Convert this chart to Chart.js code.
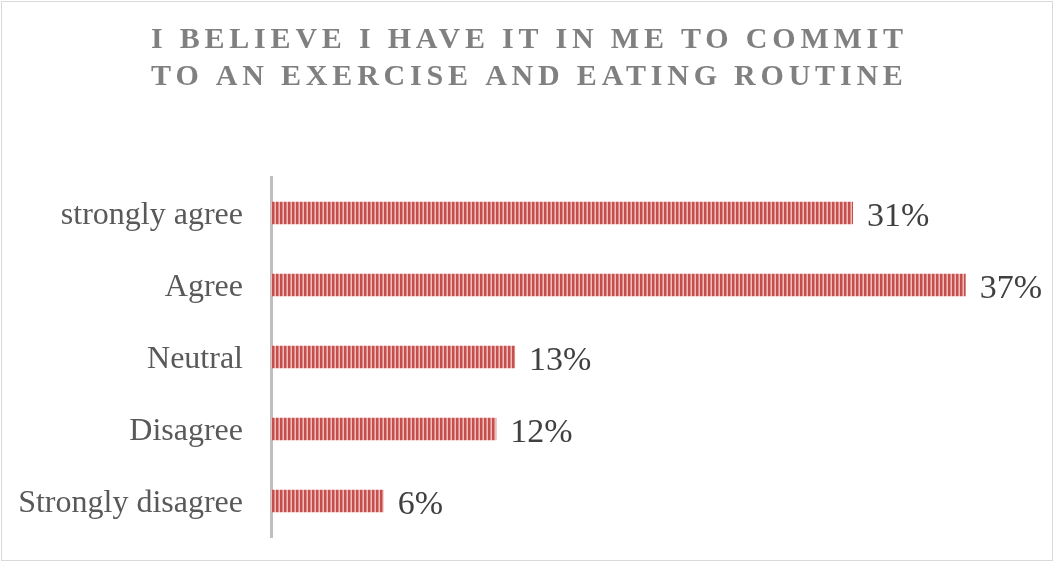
<!DOCTYPE html>
<html>
<head>
<meta charset="utf-8">
<script src="https://cdn.jsdelivr.net/npm/chart.js@4/dist/chart.umd.min.js"></script>
<style>
    html, body { margin: 0; padding: 0; background: #fff; }
    #wrap { width: 1054px; height: 562px; }
</style>
</head>
<body>
<div id="wrap"><canvas id="agreeChart" width="1054" height="562"></canvas></div>
<script>
// Chart data
const categories = ['strongly agree', 'Agree', 'Neutral', 'Disagree', 'Strongly disagree'];
const percentValues = [31, 37, 13, 12, 6];
const titleLines = ['I BELIEVE I HAVE IT IN ME TO COMMIT', 'TO AN EXERCISE AND EATING ROUTINE'];

const serif = "'Liberation Serif', 'Times New Roman', serif";

// Vertical stripe fill for the bars
function stripePattern(ctx) {
    const c = document.createElement('canvas');
    c.width = 4;
    c.height = 1;
    const p = c.getContext('2d');
    p.fillStyle = '#c44f4d';
    p.fillRect(0, 0, 2, 1);
    p.fillStyle = '#dc8988';
    p.fillRect(2, 0, 1, 1);
    p.fillStyle = '#eebcbb';
    p.fillRect(3, 0, 1, 1);
    return ctx.createPattern(c, 'repeat');
}

// Spaced title + frame
const titlePlugin = {
    id: 'spacedTitle',
    afterDraw(chart) {
        const ctx = chart.ctx;
        ctx.save();
        ctx.strokeStyle = '#d9d9d9';
        ctx.lineWidth = 1;
        ctx.strokeRect(1.5, 1.5, chart.width - 3, chart.height - 3);

        ctx.font = 'bold 30px ' + serif;
        ctx.fillStyle = '#808080';
        ctx.textBaseline = 'middle';
        ctx.textAlign = 'left';
        const spacing = 4.8;
        ctx.letterSpacing = spacing + 'px';
        const lineY = [40, 77];
        titleLines.forEach(function(line, i) {
            const w = ctx.measureText(line).width - spacing;
            ctx.fillText(line, chart.width / 2 - w / 2, lineY[i]);
        });
        ctx.restore();
    }
};

// Value labels at the end of each bar
const valueLabels = {
    id: 'valueLabels',
    afterDatasetsDraw(chart) {
        const ctx = chart.ctx;
        const meta = chart.getDatasetMeta(0);
        ctx.save();
        ctx.font = '34px ' + serif;
        ctx.fillStyle = '#404040';
        ctx.textAlign = 'left';
        ctx.textBaseline = 'alphabetic';
        meta.data.forEach(function(bar, i) {
            ctx.fillText(percentValues[i] + '%', bar.x + 14, bar.y + 13);
        });
        ctx.restore();
    }
};

document.addEventListener('DOMContentLoaded', function() {
    const canvas = document.getElementById('agreeChart');
    const ctx = canvas.getContext('2d');

    new Chart(ctx, {
        type: 'bar',
        data: {
            labels: categories,
            datasets: [{
                data: percentValues,
                backgroundColor: stripePattern(ctx),
                borderWidth: 0,
                categoryPercentage: 1,
                barPercentage: 0.31
            }]
        },
        options: {
            indexAxis: 'y',
            responsive: false,
            animation: false,
            layout: {
                padding: { top: 177, bottom: 25, left: 0, right: 32 }
            },
            scales: {
                x: {
                    display: false,
                    min: 0,
                    max: 40
                },
                y: {
                    afterFit: function(scale) {
                        scale.width = 271;
                        scale.paddingTop = 0;
                        scale.paddingBottom = 0;
                    },
                    grid: { display: false, drawTicks: false },
                    border: { display: true, color: '#bfbfbf', width: 3 },
                    ticks: {
                        padding: 28,
                        labelOffset: 3,
                        color: '#595959',
                        font: { family: serif, size: 32 }
                    }
                }
            },
            plugins: {
                legend: { display: false },
                tooltip: { enabled: false },
                title: { display: false }
            }
        },
        plugins: [titlePlugin, valueLabels]
    });
});
</script>
</body>
</html>
